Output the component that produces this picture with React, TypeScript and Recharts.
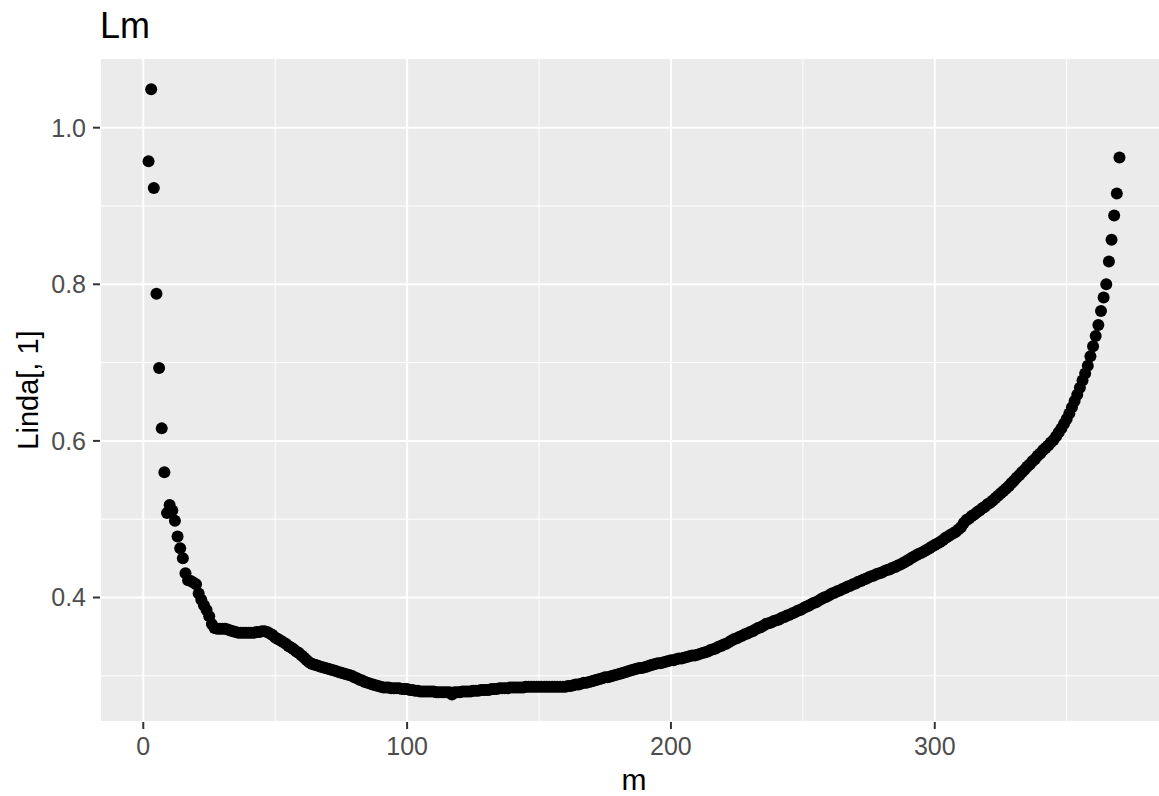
import { ScatterChart, Scatter, XAxis, YAxis, CartesianGrid, ReferenceLine } from 'recharts'

// Linda[, 1] for m = 2 .. 370, ten per row
const lindaValues = [
  0.957, 1.049, 0.923, 0.788, 0.693, 0.616, 0.56, 0.508, 0.518, 0.511,
  0.498, 0.478, 0.463, 0.45, 0.431, 0.422, 0.421, 0.419, 0.417, 0.405,
  0.397, 0.39, 0.384, 0.376, 0.366, 0.361, 0.36, 0.36, 0.36, 0.36,
  0.359, 0.358, 0.357, 0.356, 0.355, 0.355, 0.355, 0.355, 0.355, 0.355,
  0.355, 0.356, 0.356, 0.357, 0.357, 0.356, 0.354, 0.352, 0.349, 0.347,
  0.345, 0.343, 0.341, 0.338, 0.336, 0.334, 0.331, 0.329, 0.326, 0.323,
  0.32, 0.317, 0.315, 0.314, 0.313, 0.312, 0.311, 0.31, 0.309, 0.308,
  0.307, 0.306, 0.305, 0.304, 0.303, 0.302, 0.301, 0.3, 0.298, 0.297,
  0.295, 0.294, 0.292, 0.291, 0.29, 0.289, 0.288, 0.287, 0.286, 0.285,
  0.285, 0.285, 0.284, 0.284, 0.284, 0.284, 0.283, 0.283, 0.283, 0.282,
  0.282, 0.281, 0.281, 0.28, 0.28, 0.28, 0.28, 0.28, 0.28, 0.279,
  0.279, 0.279, 0.279, 0.279, 0.279, 0.276, 0.279, 0.279, 0.279, 0.28,
  0.28, 0.28, 0.28, 0.281, 0.281, 0.281, 0.282, 0.282, 0.282, 0.282,
  0.283, 0.283, 0.283, 0.284, 0.284, 0.284, 0.284, 0.285, 0.285, 0.285,
  0.285, 0.285, 0.285, 0.286, 0.286, 0.286, 0.286, 0.286, 0.286, 0.286,
  0.286, 0.286, 0.286, 0.286, 0.286, 0.286, 0.286, 0.286, 0.286, 0.287,
  0.287, 0.288, 0.289, 0.289, 0.29, 0.291, 0.291, 0.292, 0.293, 0.294,
  0.295, 0.296, 0.297, 0.298, 0.298, 0.299, 0.3, 0.301, 0.302, 0.303,
  0.304, 0.305, 0.306, 0.307, 0.308, 0.309, 0.31, 0.31, 0.311, 0.312,
  0.313, 0.314, 0.315, 0.316, 0.316, 0.317, 0.318, 0.319, 0.32, 0.32,
  0.321, 0.322, 0.322, 0.323, 0.324, 0.325, 0.326, 0.326, 0.327, 0.328,
  0.329, 0.33, 0.331, 0.333, 0.334, 0.335, 0.337, 0.338, 0.34, 0.341,
  0.343, 0.345, 0.347, 0.348, 0.35, 0.351, 0.353, 0.354, 0.356, 0.357,
  0.359, 0.361, 0.362, 0.364, 0.366, 0.367, 0.368, 0.37, 0.371, 0.372,
  0.374, 0.375, 0.377, 0.378, 0.38, 0.381, 0.383, 0.384, 0.386, 0.388,
  0.389, 0.391, 0.393, 0.394, 0.396, 0.398, 0.4, 0.401, 0.403, 0.405,
  0.406, 0.408, 0.409, 0.411, 0.412, 0.414, 0.415, 0.417, 0.418, 0.42,
  0.421, 0.423, 0.424, 0.426, 0.427, 0.428, 0.43, 0.431, 0.432, 0.434,
  0.435, 0.436, 0.438, 0.439, 0.441, 0.442, 0.444, 0.446, 0.448, 0.45,
  0.452, 0.454, 0.456, 0.457, 0.459, 0.461, 0.463, 0.465, 0.467, 0.469,
  0.471, 0.473, 0.476, 0.478, 0.48, 0.482, 0.484, 0.487, 0.49, 0.495,
  0.499, 0.501, 0.504, 0.506, 0.509, 0.511, 0.514, 0.516, 0.519, 0.521,
  0.524, 0.527, 0.53, 0.533, 0.536, 0.539, 0.542, 0.546, 0.549, 0.553,
  0.556, 0.56, 0.563, 0.567, 0.57, 0.574, 0.577, 0.581, 0.584, 0.588,
  0.591, 0.594, 0.598, 0.601, 0.606, 0.611, 0.616, 0.622, 0.628, 0.635,
  0.643, 0.651, 0.659, 0.668, 0.677, 0.686, 0.696, 0.708, 0.721, 0.734,
  0.748, 0.766, 0.783, 0.8, 0.829, 0.857, 0.888, 0.916, 0.962,
]
const firstM = 2

const xTicks = [0, 100, 200, 300]
const xMinor = [50, 150, 250, 350]
const yTicks = [0.4, 0.6, 0.8, 1.0]
const yMinor = [0.3, 0.5, 0.7, 0.9]

const points = lindaValues.map((v, i) => ({ m: firstM + i, linda: v }))

const FONT = '"Liberation Sans", Arial, sans-serif'

const Dot = (props: any) => <circle cx={props.cx} cy={props.cy} r={6} fill="#000000" />

export default function App() {
  return (
    <div style={{ position: 'absolute', left: 0, top: 0, width: 1159, height: 796, overflow: 'hidden', background: '#fff' }}>
      <svg width={300} height={56} style={{ position: 'absolute', left: 0, top: 0 }}>
        <text x={100} y={38} fontSize={36} fontFamily={FONT} fill="#000">Lm</text>
      </svg>
      <ScatterChart width={1172} height={796} margin={{ top: 58, right: 4, bottom: 0, left: 0 }}>
        <CartesianGrid fill="#EBEBEB" stroke="#FFFFFF" strokeWidth={2} />
        {xMinor.map((x) => (
          <ReferenceLine key={'x' + x} x={x} stroke="#FFFFFF" strokeWidth={1} />
        ))}
        {yMinor.map((y) => (
          <ReferenceLine key={'y' + y} y={y} stroke="#FFFFFF" strokeWidth={1} />
        ))}
        <XAxis
          type="number"
          dataKey="m"
          domain={[-16.4, 388.4]}
          ticks={xTicks}
          allowDataOverflow
          height={74}
          axisLine={false}
          tickSize={7}
          tickMargin={8}
          tickLine={{ stroke: '#333333', strokeWidth: 2 }}
          tick={{ fill: '#4D4D4D', fontSize: 25, fontFamily: FONT }}
          label={{
            content: (p: any) => {
              const vb = p.viewBox
              return (
                <text x={vb.x + vb.width / 2} y={vb.y + 68} textAnchor="middle" fontSize={30} fontFamily={FONT} fill="#000">
                  m
                </text>
              )
            },
          }}
        />
        <YAxis
          type="number"
          dataKey="linda"
          domain={[0.241, 1.089]}
          ticks={yTicks}
          allowDataOverflow
          width={100}
          axisLine={false}
          tickSize={7}
          tickMargin={7}
          tickLine={{ stroke: '#333333', strokeWidth: 2 }}
          tickFormatter={(v: number) => v.toFixed(1)}
          tick={{ fill: '#4D4D4D', fontSize: 25, fontFamily: FONT }}
          label={{
            content: (p: any) => {
              const vb = p.viewBox
              const cx = vb.x + 38
              const cy = vb.y + vb.height / 2
              return (
                <text x={cx} y={cy} transform={`rotate(-90 ${cx} ${cy})`} textAnchor="middle" fontSize={29} fontFamily={FONT} fill="#000">
                  Linda[, 1]
                </text>
              )
            },
          }}
        />
        <Scatter data={points} shape={Dot} isAnimationActive={false} />
      </ScatterChart>
    </div>
  )
}
